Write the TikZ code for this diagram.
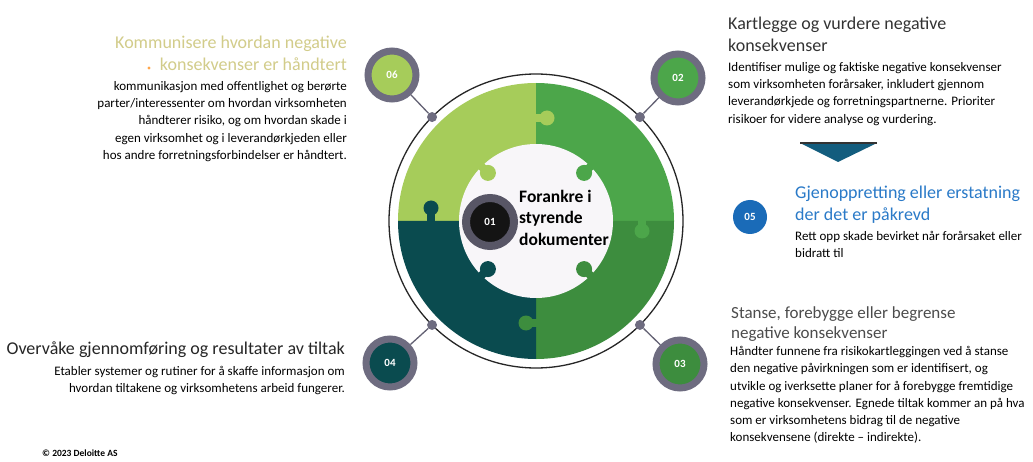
\documentclass[tikz,border=0pt]{standalone}
\usepackage{fontspec}
\setmainfont{Carlito}
\usetikzlibrary{calc}
\definecolor{lgreen}{HTML}{A6CC5A}
\definecolor{mgreen}{HTML}{4CA64A}
\definecolor{dgreen}{HTML}{3D8D3E}
\definecolor{pteal}{HTML}{0A4B4F}
\definecolor{ringgray}{HTML}{6E6C80}
\definecolor{paleyel}{HTML}{D2CC8A}
\definecolor{hblue}{HTML}{2A7AC8}
\definecolor{cblue}{HTML}{1A6BB8}
\definecolor{tri}{HTML}{135D7E}
\definecolor{centerwhite}{HTML}{F8F6F9}
\tikzset{
  numc/.style={circle, minimum size=48pt, inner sep=0pt, draw=ringgray, line width=7pt,
    text=white, font=\fontsize{11}{11}\selectfont\bfseries},
  ringdot/.style={circle, minimum size=10pt, inner sep=0pt, fill=ringgray},
  conn/.style={draw=ringgray!90!black, line width=1.3pt},
  head/.style={inner sep=0pt, font=\fontsize{18}{21.5}\selectfont},
  body/.style={inner sep=0pt, text=black, font=\fontsize{13}{17.3}\selectfont},
}
\begin{document}
\begin{tikzpicture}[x=1pt,y=-1pt]
\useasboundingbox (0,0) rectangle (1033,462);
\fill[white] (0,0) rectangle (1033,462);
\coordinate (C) at (536,221);
% quadrants
\fill[lgreen] (C) -- ++(180:138) arc[start angle=180,end angle=270,radius=138] -- cycle;
\fill[mgreen] (C) -- ++(270:138) arc[start angle=270,end angle=360,radius=138] -- cycle;
\fill[dgreen] (C) -- ++(0:138) arc[start angle=0,end angle=90,radius=138] -- cycle;
\fill[pteal] (C) -- ++(90:138) arc[start angle=90,end angle=180,radius=138] -- cycle;
% knobs on the splits
\fill[pteal] (431,208) circle (7.5); \fill[pteal] (427,208) rectangle (435,222);
\fill[mgreen] (642,231) circle (7.5); \fill[mgreen] (638,220) rectangle (646,231);
\fill[dgreen] (526,323) circle (7.5); \fill[dgreen] (526,319) rectangle (537,327);
\fill[lgreen] (547,118) circle (7.5); \fill[lgreen] (535,114) rectangle (547,122);
% centre
\fill[centerwhite] (C) circle (77);
\foreach \a/\c in {225/lgreen,315/mgreen,45/dgreen,135/pteal}{
  \fill[\c] ($(C)+(\a:68)$) circle (8);
  \draw[\c, line width=8pt] ($(C)+(\a:68)$) -- ($(C)+(\a:80)$);
}
% outer ring
\draw[black!85, line width=1.3pt] (C) circle (147);
% ring dots
\node[ringdot] (d06) at ($(C)+(225:147)$) {};
\node[ringdot] (d02) at ($(C)+(315:147)$) {};
\node[ringdot] (d03) at ($(C)+(45:147)$) {};
\node[ringdot] (d04) at ($(C)+(135:147)$) {};
% number circles
\node[numc, fill=lgreen] (n06) at (392,75) {06};
\node[numc, fill=mgreen] (n02) at (678,78) {02};
\node[numc, fill=dgreen] (n03) at (680,364) {03};
\node[numc, fill=pteal] (n04) at (390,363) {04};
\node[numc, fill=black!92, draw=ringgray!80!black, line width=8pt] (n01) at (490,222) {01};
\draw[conn] (n06) -- (d06);
\draw[conn] (n02) -- (d02);
\draw[conn] (n03) -- (d03);
\draw[conn] (n04) -- (d04);
% centre text
\node[inner sep=0pt, anchor=north west, align=left, font=\fontsize{17.5}{21.5}\selectfont\bfseries] (t01) at (519,190)
  {Forankre i\\styrende\\dokumenter};
% 06 block
\node[head, text=paleyel, anchor=north east, align=right] (h06) at (347,36)
  {Kommunisere hvordan negative\\konsekvenser er håndtert};
\fill[orange!70] (149,68) circle (1.6);
\node[body, anchor=north east, align=right] (b06) at (347,81)
  {kommunikasjon med offentlighet og berørte\\parter/interessenter om hvordan virksomheten\\håndterer risiko, og om hvordan skade i\\egen virksomhet og i leverandørkjeden eller\\hos andre forretningsforbindelser er håndtert.};
% 02 block
\node[head, text=black!80, anchor=north west, align=left] (h02) at (728,17)
  {Kartlegge og vurdere negative\\konsekvenser};
\node[body, anchor=north west, align=left] (b02) at (728,62)
  {Identifiser mulige og faktiske negative konsekvenser\\som virksomheten forårsaker, inkludert gjennom\\leverandørkjede og forretningspartnerne. Prioriter\\risikoer for videre analyse og vurdering.};
% arrow triangle
\fill[tri] (800,143) -- (877,143) -- (838,162) -- cycle;
\draw[black!80, line width=1.2pt] (800,143) -- (877,143);
% 05 block
\node[circle, fill=cblue, minimum size=34pt, inner sep=0pt, text=white, font=\fontsize{11}{11}\selectfont\bfseries] (n05) at (750,217) {05};
\node[head, text=hblue, anchor=north west, align=left] (h05) at (795,186)
  {Gjenoppretting eller erstatning\\der det er påkrevd};
\node[body, anchor=north west, align=left] (b05) at (795,231)
  {Rett opp skade bevirket når forårsaket eller\\bidratt til};
% 03 block
\node[inner sep=0pt, text=black!70, anchor=north west, align=left, font=\fontsize{17}{20.5}\selectfont] (h03) at (731,306)
  {Stanse, forebygge eller begrense\\negative konsekvenser};
\node[body, anchor=north west, align=left] (b03) at (730,346)
  {Håndter funnene fra risikokartleggingen ved å stanse\\den negative påvirkningen som er identifisert, og\\utvikle og iverksette planer for å forebygge fremtidige\\negative konsekvenser. Egnede tiltak kommer an på hva\\som er virksomhetens bidrag til de negative\\konsekvensene (direkte – indirekte).};
% 04 block
\node[head, text=black!85, anchor=north east, align=right] (h04) at (345,342)
  {Overvåke gjennomføring og resultater av tiltak};
\node[body, anchor=north east, align=right] (b04) at (345,366)
  {Etabler systemer og rutiner for å skaffe informasjon om\\hvordan tiltakene og virksomhetens arbeid fungerer.};
% footer
\node[inner sep=0pt, anchor=base west, font=\fontsize{9.5}{9.5}\selectfont\bfseries] (foot) at (42,456) {© 2023 Deloitte AS};
\end{tikzpicture}
\end{document}
